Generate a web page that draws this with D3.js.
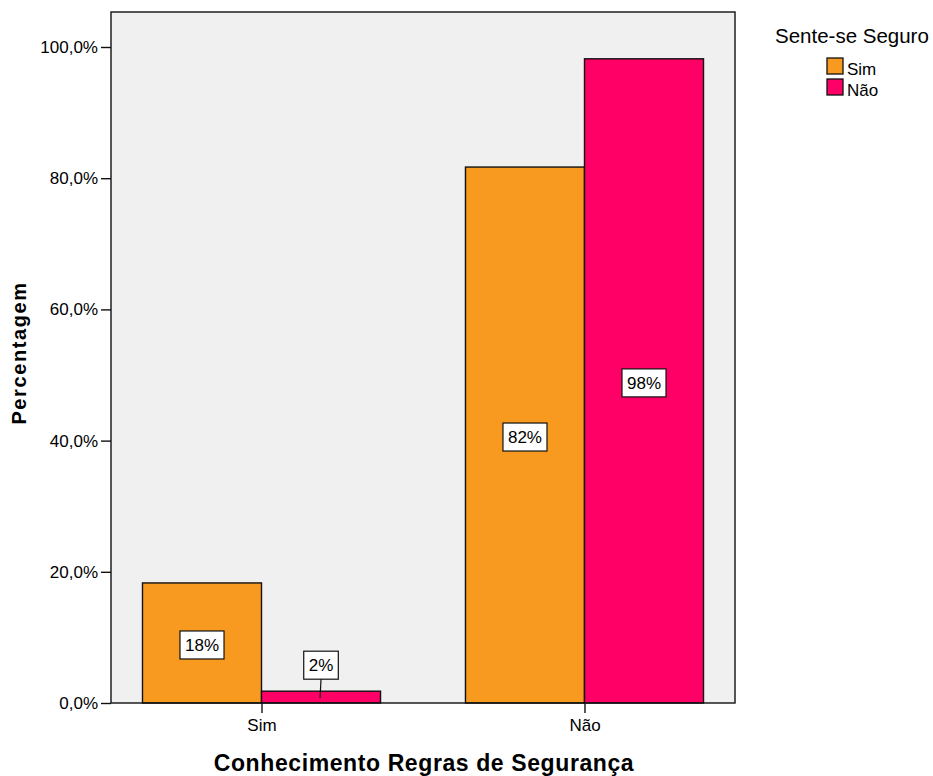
<!DOCTYPE html>
<html>
<head>
<meta charset="utf-8">
<script src="https://cdn.jsdelivr.net/npm/d3@7"></script>
<style>
html, body { margin: 0; padding: 0; background: #fff; }
svg { display: block; font-family: "Liberation Sans", Arial, sans-serif; }
</style>
</head>
<body>
<svg id="chart" width="933" height="776"></svg>
<script>
// Data
const categories = ["Sim", "Não"];            // Conhecimento Regras de Segurança
const seriesNames = ["Sim", "Não"];           // Sente-se Seguro
const seriesSim = [18.3, 81.7];
const seriesNao = [1.8, 98.2];
const labelsSim = ["18%", "82%"];
const labelsNao = ["2%", "98%"];
const yTicks = [0, 20, 40, 60, 80, 100];
const yTickLabels = ["0,0%", "20,0%", "40,0%", "60,0%", "80,0%", "100,0%"];
const colors = ["#F89A1F", "#FF0066"];

const svg = d3.select("#chart");
const frame = { left: 111, right: 735, top: 12 };

const y = d3.scaleLinear().domain([0, 100]).range([703, 47]);
const x0 = d3.scaleBand().domain(categories).range([frame.left, frame.right])
  .paddingInner(0.263).paddingOuter(0.0975);
const x1 = d3.scaleBand().domain(seriesNames).range([0, x0.bandwidth()]).padding(0);

// plot background
svg.append("rect")
  .attr("x", frame.left).attr("y", frame.top)
  .attr("width", frame.right - frame.left).attr("height", y(0) - frame.top)
  .attr("fill", "#F0F0F0");

const data = categories.map((c, i) => ({
  cat: c,
  vals: [
    { s: seriesNames[0], v: seriesSim[i], lab: labelsSim[i], col: colors[0] },
    { s: seriesNames[1], v: seriesNao[i], lab: labelsNao[i], col: colors[1] }
  ]
}));

const g = svg.append("g");
const groups = g.selectAll("g.grp").data(data).join("g")
  .attr("transform", d => `translate(${x0(d.cat)},0)`);

groups.selectAll("rect").data(d => d.vals).join("rect")
  .attr("x", d => x1(d.s))
  .attr("y", d => y(d.v))
  .attr("width", x1.bandwidth())
  .attr("height", d => y(0) - y(d.v))
  .attr("fill", d => d.col)
  .attr("stroke", "#111")
  .attr("stroke-width", 1.4);

// frame
svg.append("rect")
  .attr("x", frame.left).attr("y", frame.top)
  .attr("width", frame.right - frame.left).attr("height", y(0) - frame.top)
  .attr("fill", "none").attr("stroke", "#111").attr("stroke-width", 1.4);

// value labels
groups.each(function(d) {
  const gg = d3.select(this);
  d.vals.forEach(v => {
    const cx = x1(v.s) + x1.bandwidth() / 2;
    const barH = y(0) - y(v.v);
    const small = barH < 34;
    const cy = small ? y(v.v) - 26 : (y(v.v) + y(0)) / 2 + 2;
    const lbl = gg.append("g");
    const t = lbl.append("text")
      .attr("x", cx).attr("y", cy + 6)
      .attr("text-anchor", "middle")
      .attr("font-size", 17)
      .attr("fill", "#000")
      .text(v.lab);
    const w = t.node().getComputedTextLength() + 10;
    lbl.insert("rect", "text")
      .attr("x", cx - w / 2).attr("y", cy - 14)
      .attr("width", w).attr("height", 28)
      .attr("fill", "#fff").attr("stroke", "#111").attr("stroke-width", 1.2);
    if (small) {
      lbl.append("line")
        .attr("x1", cx).attr("x2", cx - 1)
        .attr("y1", cy + 14).attr("y2", (y(v.v) + y(0)) / 2 + 1)
        .attr("stroke", "#111").attr("stroke-width", 1.2);
    }
  });
});

// y axis
const yAxis = d3.axisLeft(y).tickValues(yTicks)
  .tickFormat((d, i) => yTickLabels[i]).tickSize(10).tickPadding(3);
const ya = svg.append("g").attr("transform", `translate(${frame.left},0)`).call(yAxis);
ya.select(".domain").remove();
ya.selectAll(".tick line").attr("stroke", "#111").attr("stroke-width", 1.4);
ya.selectAll(".tick text").attr("font-size", 17).attr("fill", "#000")
  .attr("font-family", "Liberation Sans, Arial, sans-serif");

// x axis
const xAxis = d3.axisBottom(d3.scalePoint().domain(categories)
  .range([x0(categories[0]) + x0.bandwidth() / 2, x0(categories[1]) + x0.bandwidth() / 2]))
  .tickSize(10).tickPadding(6);
const xa = svg.append("g").attr("transform", `translate(0,${y(0)})`).call(xAxis);
xa.select(".domain").remove();
xa.selectAll(".tick line").attr("stroke", "#111").attr("stroke-width", 1.4);
xa.selectAll(".tick text").attr("font-size", 17).attr("fill", "#000")
  .attr("font-family", "Liberation Sans, Arial, sans-serif");

// axis titles
svg.append("text")
  .attr("x", 424).attr("y", 771)
  .attr("text-anchor", "middle")
  .attr("font-size", 23).attr("font-weight", "bold")
  .attr("letter-spacing", 0.6)
  .text("Conhecimento Regras de Segurança");

svg.append("text")
  .attr("transform", "translate(26,353) rotate(-90)")
  .attr("text-anchor", "middle")
  .attr("font-size", 20).attr("font-weight", "bold")
  .attr("letter-spacing", 1.6)
  .text("Percentagem");

// legend
svg.append("text")
  .attr("x", 775).attr("y", 43)
  .attr("font-size", 20.5)
  .text("Sente-se Seguro");

const leg = svg.append("g").selectAll("g").data(seriesNames).join("g")
  .attr("transform", (d, i) => `translate(827,${58 + i * 21})`);
leg.append("rect").attr("width", 16).attr("height", 16)
  .attr("fill", (d, i) => colors[i]).attr("stroke", "#111").attr("stroke-width", 1.3);
leg.append("text").attr("x", 20).attr("y", 17)
  .attr("font-size", 17).text(d => d);
</script>
</body>
</html>
